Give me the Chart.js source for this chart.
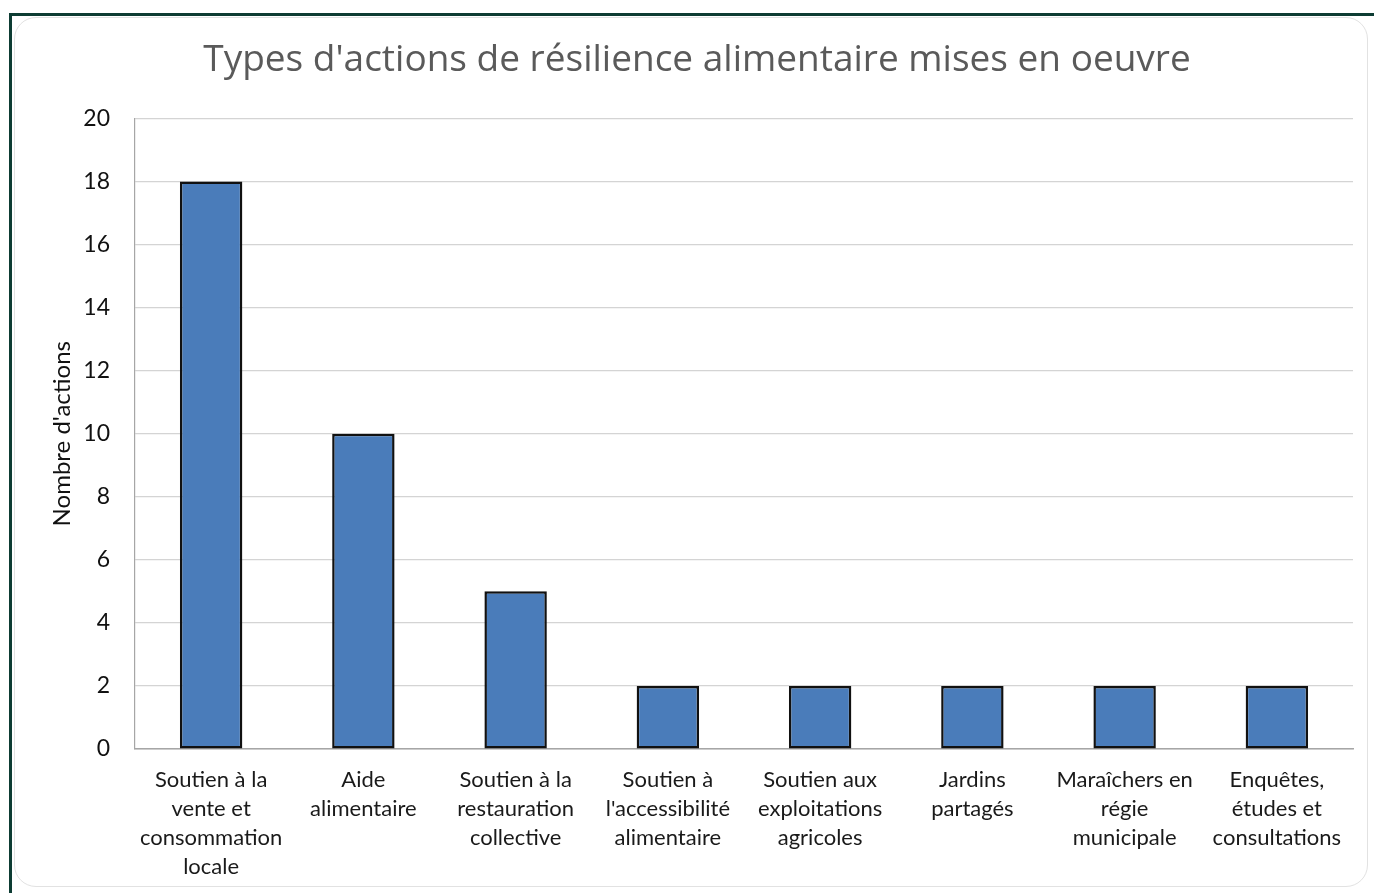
<!DOCTYPE html>
<html><head><meta charset="utf-8">
<script src="https://cdn.jsdelivr.net/npm/chart.js@4"></script>
<style>
html,body{margin:0;padding:0;background:#fff;width:1374px;height:893px;overflow:hidden;}
#frame{position:absolute;left:9px;top:13px;width:1370px;height:890px;border-top:3px solid #0d3c33;border-left:3px solid #0d3c33;}
#card{position:absolute;left:14px;top:17px;width:1352px;height:868px;border:1px solid #e2e2e2;border-radius:22px;background:#fff;}
#wrap{position:absolute;left:0;top:0;width:1374px;height:893px;}
</style></head><body>
<div id="frame"></div><div id="card"></div>
<div id="wrap"><canvas id="c" width="1374" height="893"></canvas></div>
<script>
const chartTitle = "Types d'actions de résilience alimentaire mises en oeuvre";
const yAxisTitle = "Nombre d'actions";
const categories = [
  ["Soutien à la","vente et","consommation","locale"],
  ["Aide","alimentaire"],
  ["Soutien à la","restauration","collective"],
  ["Soutien à","l'accessibilité","alimentaire"],
  ["Soutien aux","exploitations","agricoles"],
  ["Jardins","partagés"],
  ["Maraîchers en","régie","municipale"],
  ["Enquêtes,","études et","consultations"]
];
const values = [18, 10, 5, 2, 2, 2, 2, 2];
const yTicks = [0, 2, 4, 6, 8, 10, 12, 14, 16, 18, 20];

const FONT = "Lato, 'Open Sans', sans-serif";
new Chart(document.getElementById('c'), {
  type: 'bar',
  data: { labels: categories, datasets: [{
    data: values,
    backgroundColor: '#4a7cba',
    borderColor: '#111111',
    borderWidth: 2.5,
    borderSkipped: false,
    categoryPercentage: 1,
    barPercentage: 0.41
  }]},
  options: {
    responsive: false, animation: false,
    layout: { padding: { left: 41, right: 21, top: 0, bottom: 0 } },
    plugins: {
      legend: { display: false }, tooltip: { enabled: false },
      title: { display: true, text: chartTitle, color: '#5a5a5a',
        font: { family: "'Open Sans', sans-serif", size: 37, weight: 'normal' }, lineHeight: 1.2,
        padding: { top: 38, bottom: 36 } }
    },
    scales: {
      x: {
        grid: { display: false, drawTicks: false },
        border: { display: true, color: '#a6a6a6', width: 1.5 },
        ticks: { color: '#1a1a1a', font: { family: FONT, size: 22, lineHeight: 1.32 }, padding: 16, maxRotation: 0, autoSkip: false },
        afterFit: s => { s.height = 144; }
      },
      y: {
        min: 0, max: 20,
        afterBuildTicks: s => { s.ticks = yTicks.map(v => ({ value: v })); },
        grid: { color: '#d4d4d4', lineWidth: 1.2, drawTicks: false },
        border: { display: true, color: '#a6a6a6', width: 1.2 },
        ticks: { color: '#111', font: { family: FONT, size: 23 }, padding: 25 },
        title: { display: true, text: yAxisTitle, color: '#111', font: { family: FONT, size: 24 }, padding: { top: 7, bottom: 0 } },
        afterFit: s => { s.width = 94; }
      }
    }
  }
});
</script>
</body></html>
